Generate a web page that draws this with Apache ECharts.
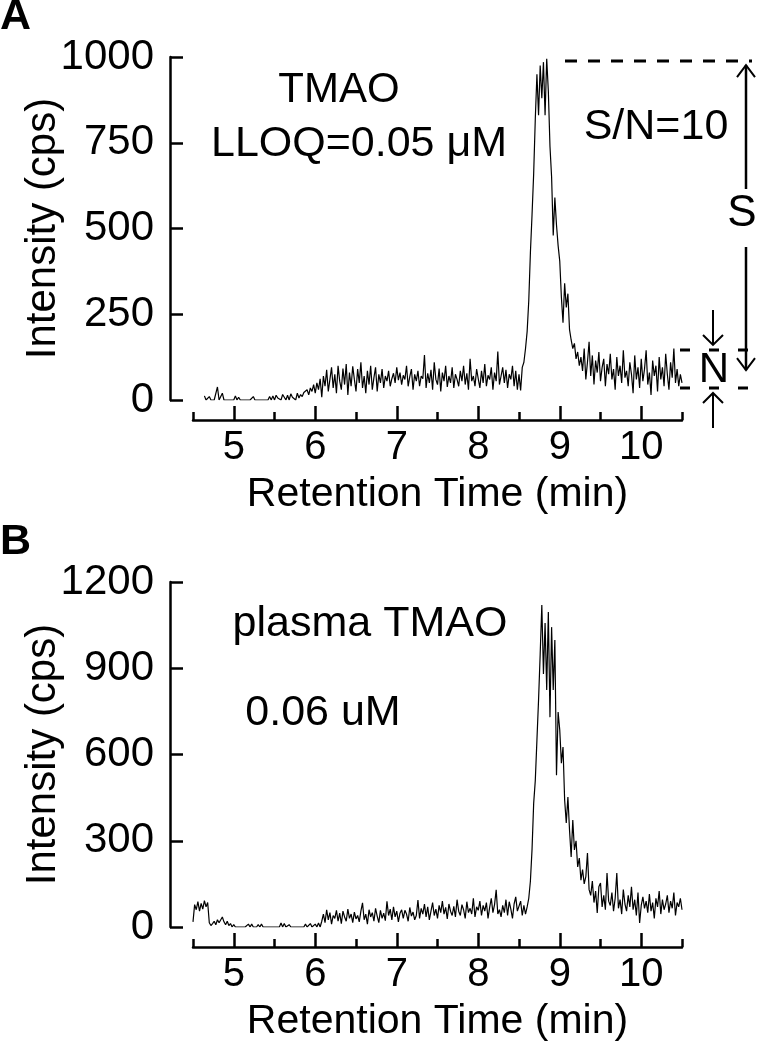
<!DOCTYPE html>
<html><head><meta charset="utf-8">
<script src="https://cdn.jsdelivr.net/npm/echarts@6/dist/echarts.min.js"></script>
<style>html,body{margin:0;padding:0;background:#fff}#c{width:757px;height:1050px}</style>
</head><body><div id="c"></div>
<script>
// ---------- data ----------
const timeStep = 0.02;          // min between samples
const startA = 4.64;            // first sample, panel A
const startB = 4.50;            // first sample, panel B
const xTicks = [5, 6, 7, 8, 9, 10];
const xRange = [4.5, 10.5];
const yTicksA = [0, 250, 500, 750, 1000];
const yTicksB = [0, 300, 600, 900, 1200];
const xTitle = 'Retention Time (min)';
const yTitle = 'Intensity (cps)';

// Panel A: TMAO at LLOQ (cps)
const intensityA = [
  12,0,0,10,0,0,0,0,38,0,            // 4.64
  0,20,0,0,0,0,0,0,0,12,             // 4.84
  0,8,0,0,0,0,0,0,0,0,               // 5.04
  10,0,0,0,0,0,0,0,0,0,              // 5.24
  10,0,12,0,14,6,10,0,16,8,          // 5.44
  0,14,0,18,8,12,0,20,6,16,          // 5.64
  10,22,18,30,15,35,25,45,20,50,     // 5.84
  30,62,8,70,40,88,25,60,95,35,      // 6.04
  75,20,100,55,30,92,45,105,15,80,   // 6.24
  40,98,60,25,90,50,110,35,70,20,    // 6.44
  85,45,100,30,65,95,25,75,50,90,    // 6.64
  35,70,55,85,40,62,78,50,95,58,     // 6.84
  80,45,72,60,100,40,68,90,30,75,    // 7.04
  55,85,40,70,62,131,35,78,50,88,    // 7.24
  30,110,60,45,92,25,80,55,100,38,   // 7.44
  70,50,95,35,75,60,40,85,55,100,    // 7.64
  45,78,30,120,55,70,40,90,62,35,    // 7.84
  85,50,105,40,72,60,95,30,80,55,    // 8.04
  141,45,70,95,50,88,35,75,60,100,   // 8.24
  40,85,30,75,28,95,110,150,200,290, // 8.44
  430,540,660,820,950,830,975,880,985,830, // 8.64
  995,900,740,650,480,590,510,450,405,300, // 8.84
  225,340,270,310,205,175,150,165,120,140, // 9.04
  100,125,85,150,60,110,170,70,130,45,     // 9.24
  115,80,140,55,95,120,40,105,75,135,      // 9.44
  60,90,30,125,70,100,50,145,65,85,        // 9.64
  40,110,75,20,130,60,95,35,120,55,        // 9.84
  90,145,45,80,15,115,70,100,25,125,       // 10.04
  60,95,40,135,75,30,110,65,150,50,        // 10.24
  90,40,75,50                              // 10.44
];

// Panel B: plasma TMAO (cps)
const intensityB = [
  18,78,60,88,55,82,62,92,70,85,     // 4.50
  15,5,12,20,8,25,15,10,35,18,       // 4.70
  8,20,5,12,0,8,0,0,0,0,             // 4.90
  0,0,0,0,10,0,10,0,0,0,             // 5.10
  8,0,10,0,0,0,0,0,0,0,              // 5.30
  0,0,0,0,14,0,12,0,0,8,             // 5.50
  0,0,0,0,0,0,0,0,0,10,              // 5.70
  0,0,12,0,0,10,0,14,0,20,           // 5.90
  45,15,60,25,50,10,40,30,58,20,     // 6.10
  48,12,55,35,20,62,30,45,15,52,     // 6.30
  28,40,18,55,84,25,45,10,60,35,     // 6.50
  50,20,65,38,15,58,30,48,22,89,     // 6.70
  40,62,25,70,35,55,18,48,60,30,     // 6.90
  58,45,20,68,38,52,25,40,94,30,     // 7.10
  65,45,80,35,70,25,55,85,40,62,     // 7.30
  30,75,50,90,45,68,28,80,55,40,     // 7.50
  72,35,95,55,40,78,60,30,88,50,     // 7.70
  65,45,100,35,70,58,90,40,75,55,    // 7.90
  85,30,68,100,50,78,129,45,60,35,   // 8.10
  75,50,95,40,88,62,30,80,105,55,    // 8.30
  60,90,40,75,45,70,100,160,270,430, // 8.50
  510,650,790,950,1120,880,1057,824,1096,730, // 8.70
  1043,824,998,528,748,685,570,626,442,362,   // 8.90
  452,337,244,372,268,300,209,240,163,200,    // 9.10
  150,175,257,130,110,160,85,125,49,140,      // 9.30
  153,70,110,60,188,90,75,120,55,100,         // 9.50
  188,65,95,45,130,80,55,110,70,140,          // 9.70
  60,95,40,120,14,75,105,65,90,50,            // 9.90
  115,55,85,30,100,70,125,45,95,60,           // 10.10
  80,110,50,90,65,120,40,85,70,100,           // 10.30
  60                                          // 10.50
];

// annotation levels in panel A (cps)
const signalTop = 988;
const noiseHigh = 146;
const noiseMid = 87;
const noiseLow = 35;

// ---------- chart ----------
const FONT = '"Liberation Sans", Arial, Helvetica, sans-serif';
const toPairs = (start, arr) => arr.map((v, i) => [+(start + i * timeStep).toFixed(2), v]);

const chart = echarts.init(document.getElementById('c'), null, {renderer: 'canvas'});

const gridLeft = 193, gridWidth = 489;
const pxPerMin = gridWidth / (xRange[1] - xRange[0]);
const majLeft = gridLeft + (xTicks[0] - xRange[0]) * pxPerMin;
const majWidth = (xTicks[xTicks.length - 1] - xTicks[0]) * pxPerMin;

const axisLineStyle = {color: '#000', width: 2.5};

function dataX(gridIndex) {
  return {
    gridIndex, type: 'value', min: xRange[0], max: xRange[1], interval: 0.5,
    offset: 20,
    axisLine: {show: true, onZero: false, lineStyle: axisLineStyle},
    axisTick: {show: true, inside: true, length: 8, lineStyle: axisLineStyle},
    axisLabel: {show: false},
    splitLine: {show: false},
    name: xTitle, nameLocation: 'middle', nameGap: 54,
    nameTextStyle: {fontSize: 41, color: '#000', fontFamily: FONT}
  };
}
function majorX(gridIndex) {
  return {
    gridIndex, type: 'value', min: xTicks[0], max: xTicks[xTicks.length - 1], interval: 1,
    offset: 20,
    axisLine: {show: false, onZero: false},
    axisTick: {show: true, inside: true, length: 14, lineStyle: axisLineStyle},
    axisLabel: {show: true, fontSize: 40, color: '#000', fontFamily: FONT, margin: 8,
                showMinLabel: true, showMaxLabel: true, formatter: (v) => String(v)},
    splitLine: {show: false}
  };
}
function dataY(gridIndex, ticks) {
  return {
    gridIndex, type: 'value', min: ticks[0], max: ticks[ticks.length - 1],
    interval: ticks[1] - ticks[0], offset: 23,
    axisLine: {show: true, lineStyle: axisLineStyle},
    axisTick: {show: true, inside: true, length: 13, lineStyle: axisLineStyle},
    axisLabel: {show: true, fontSize: 42, color: '#000', fontFamily: FONT, margin: 16,
                showMinLabel: true, showMaxLabel: true, formatter: (v) => String(v)},
    splitLine: {show: false}
  };
}
const hiddenY = (gridIndex) => ({gridIndex, type: 'value', min: 0, max: 1, show: false});

const gridBase = {containLabel: false, outerBoundsMode: 'none'};
const grids = [
  {left: gridLeft, width: gridWidth, top: 57, height: 343},
  {left: majLeft, width: majWidth, top: 57, height: 343},
  {left: gridLeft, width: gridWidth, top: 582, height: 345},
  {left: majLeft, width: majWidth, top: 582, height: 345}
];
chart.setOption({
  animation: false,
  backgroundColor: '#fff',
  grid: grids.map(g => Object.assign({}, g, gridBase)),
  xAxis: [dataX(0), majorX(1), dataX(2), majorX(3)],
  yAxis: [dataY(0, yTicksA), hiddenY(1), dataY(2, yTicksB), hiddenY(3)],
  series: [
    {type: 'line', xAxisIndex: 0, yAxisIndex: 0, data: toPairs(startA, intensityA),
     showSymbol: false, symbol: 'none', lineStyle: {color: '#000', width: 1.2}, silent: true},
    {type: 'line', xAxisIndex: 2, yAxisIndex: 2, data: toPairs(startB, intensityB),
     showSymbol: false, symbol: 'none', lineStyle: {color: '#000', width: 1.2}, silent: true}
  ]
});

// ---------- annotations ----------
const py = (v) => chart.convertToPixel({gridIndex: 0}, [8, v])[1];
const yTop = py(signalTop), yNH = py(noiseHigh), yNL = py(noiseLow), yMid = py(noiseMid);

const txt = (text, x, y, size, weight, rotation) => ({
  type: 'text', x, y, rotation: rotation || 0, silent: true,
  style: {text, fontSize: size, fontWeight: weight || 'normal', fontFamily: FONT,
          fill: '#000', align: 'center', verticalAlign: 'middle'}
});
const ln = (x1, y1, x2, y2, w, dash) => ({
  type: 'line', silent: true, shape: {x1, y1, x2, y2},
  style: {stroke: '#000', lineWidth: w, lineDash: dash || null}
});
const head = (pts) => ({
  type: 'polyline', silent: true, shape: {points: pts},
  style: {stroke: '#000', lineWidth: 2, fill: null}
});

const sx = 746, nx = 713;
chart.setOption({
  graphic: [
    {type: 'text', x: 0, y: 17, silent: true,
     style: {text: 'A', fontSize: 43, fontWeight: 'bold', fontFamily: FONT, fill: '#000',
             align: 'left', verticalAlign: 'middle'}},
    {type: 'text', x: 0, y: 542, silent: true,
     style: {text: 'B', fontSize: 43, fontWeight: 'bold', fontFamily: FONT, fill: '#000',
             align: 'left', verticalAlign: 'middle'}},
    // y-axis titles
    txt(yTitle, 43, grids[0].top + grids[0].height / 2, 42, 'normal', Math.PI / 2),
    txt(yTitle, 43, grids[2].top + grids[2].height / 2, 42, 'normal', Math.PI / 2),
    txt('TMAO', 339, 90, 42),
    txt('LLOQ=0.05 \u03bcM', 359, 144, 43),
    txt('S/N=10', 656, 127, 43),
    txt('plasma TMAO', 370, 624, 43),
    txt('0.06 uM', 323, 713, 43),
    // signal level
    ln(565, yTop, 752, yTop, 3, [12, 11]),
    ln(sx, yTop + 4, sx, 189, 2.5),
    head([[sx - 9, yTop + 16], [sx, yTop + 4], [sx + 9, yTop + 16]]),
    txt('S', 742, 214, 44),
    ln(sx, 247, sx, yMid, 2.5),
    head([[sx - 9, yMid - 12], [sx, yMid], [sx + 9, yMid - 12]]),
    // noise band
    ln(680, yNH, 752, yNH, 3, [10, 19]),
    ln(680, yNL, 752, yNL, 3, [10, 19]),
    txt('N', nx + 1, (yNH + yNL) / 2 + 1, 42),
    ln(nx, 310, nx, yNH - 5, 2),
    head([[nx - 10, yNH - 15], [nx, yNH - 5], [nx + 10, yNH - 15]]),
    ln(nx, yNL + 5, nx, 428, 2),
    head([[nx - 10, yNL + 15], [nx, yNL + 5], [nx + 10, yNL + 15]])
  ]
});
</script>
</body></html>
